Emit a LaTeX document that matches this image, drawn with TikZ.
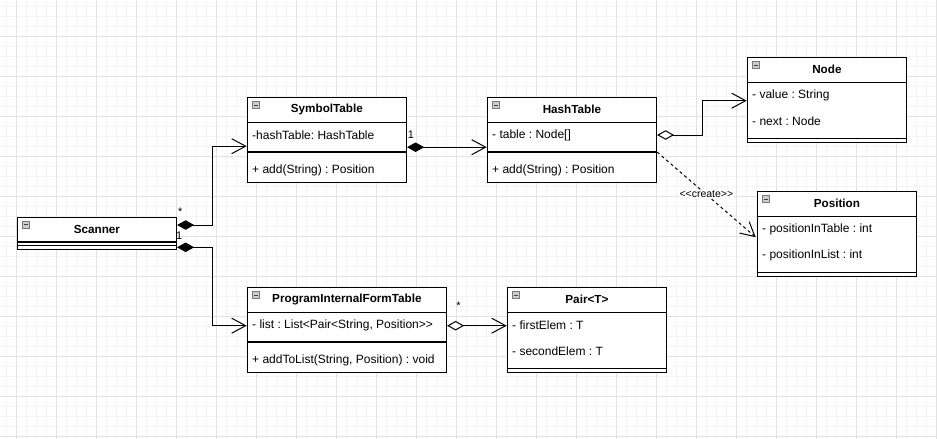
\documentclass[tikz,border=0pt]{standalone}
\usepackage{fontspec}
\setmainfont{Liberation Sans}
\usetikzlibrary{arrows.meta,calc}
\frenchspacing
\definecolor{gridmajor}{RGB}{226,226,226}
\definecolor{gridminor}{RGB}{244,244,244}
\definecolor{iconfill}{RGB}{205,205,205}
\definecolor{iconline}{RGB}{120,120,120}
\tikzset{
  box/.style={draw, line width=1.1pt, fill=white, inner sep=0pt, anchor=north west},
  sep/.style={line width=1.1pt},
  title/.style={font=\bfseries\fontsize{11.7}{14}\selectfont, inner sep=0pt},
  attr/.style={font=\fontsize{12}{14}\selectfont, inner sep=0pt, anchor=west},
  mult/.style={font=\fontsize{11}{13}\selectfont, inner sep=0pt},
  lbl/.style={font=\fontsize{10.5}{12}\selectfont, fill=white, inner sep=1pt},
  icon/.style={draw=iconline, fill=iconfill, line width=0.6pt, minimum size=7pt, inner sep=0pt,
    path picture={\draw[black!75, line width=1pt] ([xshift=1.5pt]path picture bounding box.west) -- ([xshift=-1.5pt]path picture bounding box.east);}},
  comp/.style={line width=1pt, {Diamond[length=17pt,width=9.5pt]}-{Straight Barb[length=14pt,width=15pt,line width=1pt]}},
  aggr/.style={line width=1pt, {Diamond[fill=white,length=17pt,width=9.5pt,line width=1pt]}-{Straight Barb[length=14pt,width=15pt,line width=1pt]}},
  dep/.style={line width=1pt, dash pattern=on 3pt off 3pt, -{Straight Barb[length=14pt,width=15pt,line width=1pt]}},
}
\begin{document}
\begin{tikzpicture}[x=1pt,y=-1pt]
\useasboundingbox (0,0) rectangle (937,439);
\fill[white] (0,0) rectangle (937,439);
% grid
\foreach \i in {0,...,93} { \draw[gridminor, line width=0.8pt] (6.7+\i*10,0) -- (6.7+\i*10,439); }
\foreach \i in {0,...,43} { \draw[gridminor, line width=0.8pt] (0,6.7+\i*10) -- (937,6.7+\i*10); }
\foreach \i in {0,...,23} { \draw[gridmajor, line width=0.8pt] (16.7+\i*40,0) -- (16.7+\i*40,439); }
\foreach \i in {0,...,10} { \draw[gridmajor, line width=0.8pt] (0,36.7+\i*40) -- (937,36.7+\i*40); }

% Scanner
\node[box, minimum width=159.3pt, minimum height=32.6pt] (sc) at (16.7,216.7) {};
\draw[sep] ($(sc.north west)+(0,25.3)$) -- ($(sc.north east)+(0,25.3)$);
\draw[sep] ($(sc.north west)+(0,29)$) -- ($(sc.north east)+(0,29)$);
\node[icon] (sci) at ($(sc.north west)+(9,7.8)$) {};
\node[title] (sct) at ($(sc.north)+(0,12.8)$) {Scanner};

% SymbolTable
\node[box, minimum width=159.3pt, minimum height=85.3pt] (st) at (246.7,96.7) {};
\draw[sep] ($(st.north west)+(0,25.6)$) -- ($(st.north east)+(0,25.6)$);
\draw[sep] ($(st.north west)+(0,55.3)$) -- ($(st.north east)+(0,55.3)$);
\node[icon] (sti) at ($(st.north west)+(9,8.5)$) {};
\node[title] (stt) at ($(st.north)+(0,12.8)$) {SymbolTable};
\node[attr] (sta) at ($(st.north west)+(5.3,38.3)$) {-hashTable: HashTable};
\node[attr] (stm) at ($(st.north west)+(5.3,73.3)$) {+ add(String) : Position};

% HashTable
\node[box, minimum width=169.3pt, minimum height=85.3pt] (ht) at (486.7,96.7) {};
\draw[sep] ($(ht.north west)+(0,25.6)$) -- ($(ht.north east)+(0,25.6)$);
\draw[sep] ($(ht.north west)+(0,55.3)$) -- ($(ht.north east)+(0,55.3)$);
\node[icon] (hti) at ($(ht.north west)+(9,8.5)$) {};
\node[title] (htt) at ($(ht.north)+(0,12.8)$) {HashTable};
\node[attr] (hta) at ($(ht.north west)+(5.3,38.3)$) {- table : Node[]};
\node[attr] (htm) at ($(ht.north west)+(5.3,73.3)$) {+ add(String) : Position};

% Node
\node[box, minimum width=159.3pt, minimum height=85.3pt] (nd) at (746.7,56.7) {};
\draw[sep] ($(nd.north west)+(0,25.6)$) -- ($(nd.north east)+(0,25.6)$);
\draw[sep] ($(nd.north west)+(0,81.6)$) -- ($(nd.north east)+(0,81.6)$);
\node[icon] (ndi) at ($(nd.north west)+(9,8.5)$) {};
\node[title] (ndt) at ($(nd.north)+(0,12.8)$) {Node};
\node[attr] (nda) at ($(nd.north west)+(5.3,38.3)$) {- value : String};
\node[attr] (ndb) at ($(nd.north west)+(5.3,65)$) {- next : Node};

% Position
\node[box, minimum width=159.3pt, minimum height=85.3pt] (ps) at (756.7,190.7) {};
\draw[sep] ($(ps.north west)+(0,25.6)$) -- ($(ps.north east)+(0,25.6)$);
\draw[sep] ($(ps.north west)+(0,81.6)$) -- ($(ps.north east)+(0,81.6)$);
\node[icon] (psi) at ($(ps.north west)+(9,8.5)$) {};
\node[title] (pst) at ($(ps.north)+(0,12.8)$) {Position};
\node[attr] (psa) at ($(ps.north west)+(5.3,38.6)$) {- positionInTable : int};
\node[attr] (psb) at ($(ps.north west)+(5.3,65)$) {- positionInList : int};

% ProgramInternalFormTable
\node[box, minimum width=199.3pt, minimum height=85.3pt] (pf) at (246.7,286.7) {};
\draw[sep] ($(pf.north west)+(0,25.6)$) -- ($(pf.north east)+(0,25.6)$);
\draw[sep] ($(pf.north west)+(0,55.3)$) -- ($(pf.north east)+(0,55.3)$);
\node[icon] (pfi) at ($(pf.north west)+(9,8.5)$) {};
\node[title] (pft) at ($(pf.north)+(0,12.8)$) {ProgramInternalFormTable};
\node[attr] (pfa) at ($(pf.north west)+(5.3,38.8)$) {- list : List<Pair<String, Position>\kern0pt>};
\node[attr] (pfm) at ($(pf.north west)+(5.3,73.3)$) {+ addToList(String, Position) : void};

% Pair<T>
\node[box, minimum width=159.3pt, minimum height=85.3pt] (pr) at (506.7,286.7) {};
\draw[sep] ($(pr.north west)+(0,25.6)$) -- ($(pr.north east)+(0,25.6)$);
\draw[sep] ($(pr.north west)+(0,81.6)$) -- ($(pr.north east)+(0,81.6)$);
\node[icon] (pri) at ($(pr.north west)+(9,8.5)$) {};
\node[title] (prt) at ($(pr.north)+(0,12.8)$) {Pair<T>};
\node[attr] (pra) at ($(pr.north west)+(5.3,38.8)$) {- firstElem : T};
\node[attr] (prb) at ($(pr.north west)+(5.3,65)$) {- secondElem : T};

% connectors
\draw[comp] ($(sc.north east)+(0,8.3)$) -- ++(35,0) |- ($(st.north west)+(0,49.5)$);
\draw[comp] ($(sc.north east)+(0,30.6)$) -- ++(35,0) |- ($(pf.north west)+(0,39)$);
\draw[comp] ($(st.north east)+(0,50.5)$) -- ($(ht.north west)+(0,50.5)$);
\draw[aggr] ($(ht.north east)+(0,38.3)$) -- ++(45.3,0) |- ($(nd.north west)+(0,44)$);
\draw[dep] ($(ht.north east)+(0,55.3)$) -- node[lbl] (cr) {<\kern0pt<create>\kern0pt>} ($(ps.north west)+(-1,46.5)$);
\draw[aggr] ($(pf.north east)+(0,39)$) -- ($(pr.north west)+(0,39)$);

% multiplicities
\node[mult] (m1) at (180.3,212) {*};
\node[mult] (m2) at (179.3,235.5) {1};
\node[mult] (m3) at (411,134.5) {1};
\node[mult] (m4) at (458.5,306) {*};
\end{tikzpicture}
\end{document}
